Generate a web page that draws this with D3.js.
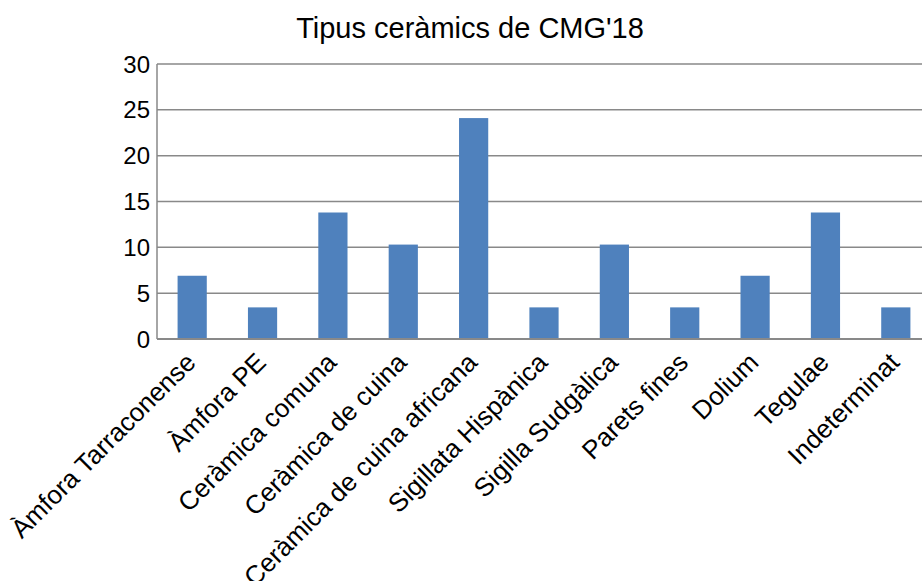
<!DOCTYPE html>
<html>
<head>
<meta charset="utf-8">
<script src="https://cdn.jsdelivr.net/npm/d3@7"></script>
<style>
  body { margin: 0; background: #fff; }
  svg text { font-family: "Liberation Sans", Arial, sans-serif; fill: #000; }
</style>
</head>
<body>
<div id="chart"></div>
<script>
// Chart data
var categories = [
    "Àmfora Tarraconense", "Àmfora PE", "Ceràmica comuna", "Ceràmica de cuina",
    "Ceràmica de cuina africana", "Sigillata Hispànica", "Sigilla Sudgàlica",
    "Parets fines", "Dolium", "Tegulae", "Indeterminat"
];
var values = [6.9, 3.45, 13.8, 10.3, 24.1, 3.45, 10.3, 3.45, 6.9, 13.8, 3.45];
var yTicks = [0, 5, 10, 15, 20, 25, 30];
var title = "Tipus ceràmics de CMG'18";

var width = 922;
var height = 581;

// plot box (the right side runs past the window edge, like the original)
var plotLeft = 157;
var plotRight = 931;
var plotTop = 64;
var plotBottom = 339;

var svg = d3.select("#chart")
    .append("svg")
    .attr("width", width)
    .attr("height", height);

var x = d3.scaleBand()
    .domain(categories)
    .range([plotLeft, plotRight])
    .paddingInner(0.585)
    .paddingOuter(0.2925);

var y = d3.scaleLinear()
    .domain([0, 30])
    .range([plotBottom, plotTop]);

// Gridlines
svg.append("g")
    .selectAll("line")
    .data(yTicks.filter(function(d) { return d > 0; }))
    .enter()
    .append("line")
    .attr("x1", plotLeft)
    .attr("x2", plotRight)
    .attr("y1", function(d) { return y(d); })
    .attr("y2", function(d) { return y(d); })
    .attr("stroke", "#898989")
    .attr("stroke-width", 1.5);

// Bars
svg.append("g")
    .selectAll("rect")
    .data(values)
    .enter()
    .append("rect")
    .attr("x", function(d, i) { return x(categories[i]); })
    .attr("width", x.bandwidth())
    .attr("y", function(d) { return y(d); })
    .attr("height", function(d) { return y(0) - y(d); })
    .attr("fill", "#4f81bd");

// Axis lines
svg.append("line")
    .attr("x1", plotLeft).attr("x2", plotLeft)
    .attr("y1", plotTop).attr("y2", plotBottom)
    .attr("stroke", "#898989")
    .attr("stroke-width", 1.5);

svg.append("line")
    .attr("x1", plotLeft).attr("x2", plotRight)
    .attr("y1", plotBottom).attr("y2", plotBottom)
    .attr("stroke", "#898989")
    .attr("stroke-width", 1.8);

// Y tick labels
svg.append("g")
    .selectAll("text")
    .data(yTicks)
    .enter()
    .append("text")
    .attr("x", plotLeft - 7)
    .attr("y", function(d) { return y(d); })
    .attr("dy", "0.36em")
    .attr("text-anchor", "end")
    .style("font-size", "24px")
    .text(function(d) { return d; });

// X category labels, rotated
svg.append("g")
    .selectAll("text")
    .data(categories)
    .enter()
    .append("text")
    .attr("transform", function(d) {
        var cx = x(d) + x.bandwidth() / 2;
        return "translate(" + (cx + 5) + "," + (plotBottom + 25) + ") rotate(-45)";
    })
    .attr("text-anchor", "end")
    .style("font-size", "26px")
    .text(function(d) { return d; });

// Title
svg.append("text")
    .attr("x", 470)
    .attr("y", 38)
    .attr("text-anchor", "middle")
    .style("font-size", "29px")
    .text(title);
</script>
</body>
</html>
